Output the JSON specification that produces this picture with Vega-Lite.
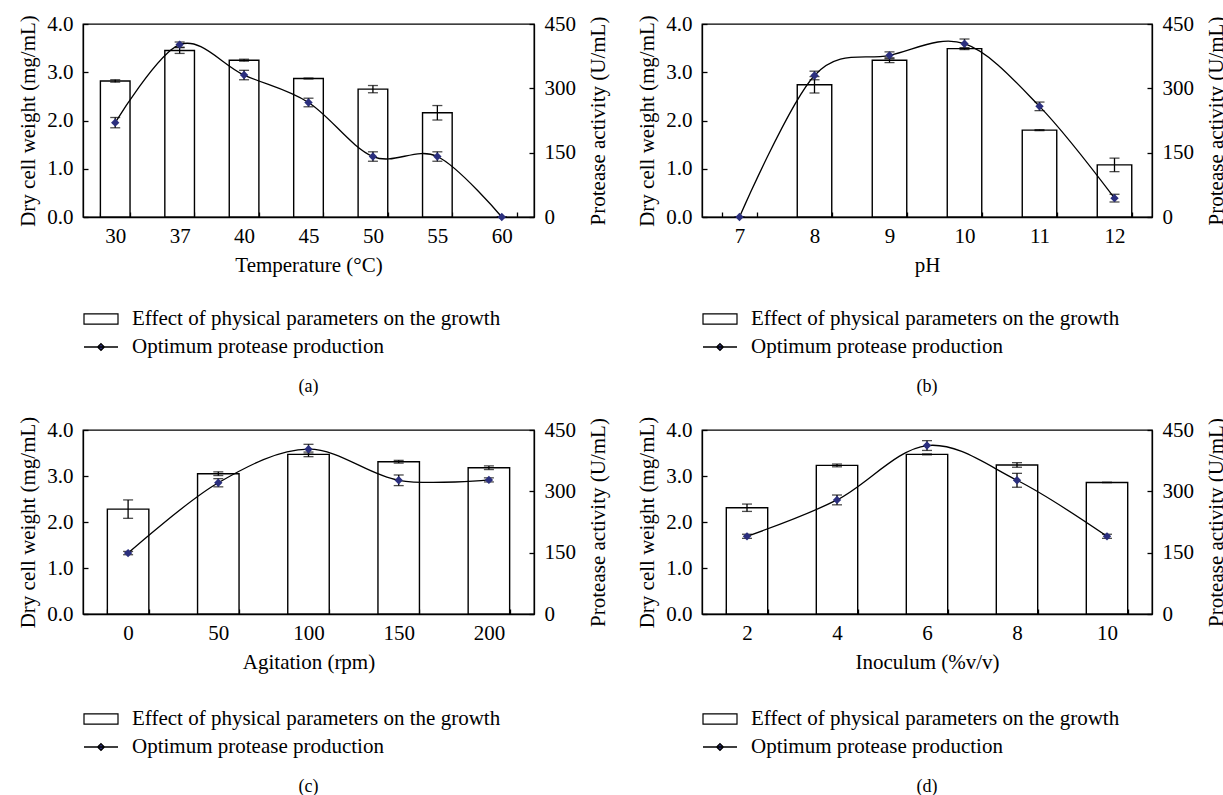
{
  "$schema": "https://vega.github.io/schema/vega-lite/v6.json",
  "padding": {"left": 17, "top": 12, "right": 0, "bottom": 0},
  "background": "white",
  "datasets": {
    "temp": [
      {"x": 30, "dw": 2.82, "dwErr": 0.025, "pa": 220, "paErr": 12},
      {"x": 37, "dw": 3.45, "dwErr": 0.06, "pa": 402, "paErr": 6},
      {"x": 40, "dw": 3.25, "dwErr": 0.02, "pa": 331, "paErr": 11},
      {"x": 45, "dw": 2.87, "dwErr": 0.01, "pa": 267, "paErr": 10},
      {"x": 50, "dw": 2.65, "dwErr": 0.075, "pa": 141, "paErr": 11},
      {"x": 55, "dw": 2.16, "dwErr": 0.15, "pa": 141, "paErr": 11},
      {"x": 60, "dw": null, "dwErr": null, "pa": 0, "paErr": 0}
    ],
    "ph": [
      {"x": 7, "dw": null, "dwErr": null, "pa": 0, "paErr": 0},
      {"x": 8, "dw": 2.74, "dwErr": 0.17, "pa": 330, "paErr": 10},
      {"x": 9, "dw": 3.25, "dwErr": 0.05, "pa": 377, "paErr": 8},
      {"x": 10, "dw": 3.49, "dwErr": 0.02, "pa": 404, "paErr": 11},
      {"x": 11, "dw": 1.8, "dwErr": 0.01, "pa": 258, "paErr": 10},
      {"x": 12, "dw": 1.08, "dwErr": 0.14, "pa": 44, "paErr": 9}
    ],
    "agit": [
      {"x": 0, "dw": 2.28, "dwErr": 0.2, "pa": 149, "paErr": 4},
      {"x": 50, "dw": 3.05, "dwErr": 0.04, "pa": 321, "paErr": 10},
      {"x": 100, "dw": 3.47, "dwErr": 0.05, "pa": 403, "paErr": 12},
      {"x": 150, "dw": 3.31, "dwErr": 0.03, "pa": 327, "paErr": 13},
      {"x": 200, "dw": 3.18, "dwErr": 0.04, "pa": 328, "paErr": 5}
    ],
    "inoc": [
      {"x": 2, "dw": 2.31, "dwErr": 0.08, "pa": 190, "paErr": 5},
      {"x": 4, "dw": 3.23, "dwErr": 0.03, "pa": 279, "paErr": 12},
      {"x": 6, "dw": 3.47, "dwErr": 0.01, "pa": 412, "paErr": 12},
      {"x": 8, "dw": 3.24, "dwErr": 0.05, "pa": 327, "paErr": 17},
      {"x": 10, "dw": 2.86, "dwErr": 0.005, "pa": 190, "paErr": 5}
    ]
  },
  "vconcat": [
    {
      "hconcat": [
        {
          "width": 451, "height": 193,
          "data": {"name": "temp"},
          "title": {"text": "(a)", "orient": "bottom", "offset": 21},
          "encoding": {"x": {"field": "x", "type": "ordinal", "title": "Temperature (°C)", "scale": {"paddingInner": 0.54, "paddingOuter": 0.27}}},
          "layer": [
            {"transform": [{"filter": "isValid(datum.dw)"}], "layer": [
              {"mark": {"type": "bar", "stroke": "black", "strokeWidth": 1.4},
               "encoding": {"y": {"field": "dw", "type": "quantitative", "title": "Dry cell weight (mg/mL)", "scale": {"domain": [0, 4]}, "axis": {"orient": "left", "values": [0, 1, 2, 3, 4], "format": ".1f"}},
                 "fill": {"datum": "Effect of physical parameters on the growth", "scale": {"range": ["white"]}, "legend": {"orient": "none", "legendX": 0, "legendY": 277, "symbolType": "M-1,-0.3H1V0.3H-1Z", "symbolSize": 1156, "symbolStrokeColor": "black", "symbolStrokeWidth": 1.2, "symbolFillColor": "white"}}}},
              {"mark": {"type": "errorbar", "ticks": {"size": 10, "color": "black"}, "color": "black", "thickness": 1.3},
               "encoding": {"y": {"field": "dw", "type": "quantitative", "title": "Dry cell weight (mg/mL)"}, "yError": {"field": "dwErr"}}}
            ]},
            {"layer": [
              {"mark": {"type": "line", "interpolate": "cardinal", "strokeWidth": 1.3},
               "encoding": {"y": {"field": "pa", "type": "quantitative", "title": "Protease activity (U/mL)", "scale": {"domain": [0, 450]}, "axis": {"orient": "right", "values": [0, 150, 300, 450], "titleAngle": 270, "titleBaseline": "top", "titlePadding": 12}},
                 "stroke": {"datum": "Optimum protease production", "scale": {"range": ["black"]}, "legend": {"orient": "none", "legendX": 0, "legendY": 305, "symbolType": "M-1,0H1M0,-0.2L0.2,0L0,0.2L-0.2,0Z", "symbolSize": 1156, "symbolStrokeColor": "black", "symbolStrokeWidth": 1.3, "symbolFillColor": "#2b2f7e"}}}},
              {"mark": {"type": "errorbar", "ticks": {"size": 10, "color": "black"}, "color": "black", "thickness": 1.3},
               "encoding": {"y": {"field": "pa", "type": "quantitative", "title": "Protease activity (U/mL)"}, "yError": {"field": "paErr"}}},
              {"mark": {"type": "point", "shape": "diamond", "filled": true, "color": "#2b2f7e", "size": 70, "opacity": 1},
               "encoding": {"y": {"field": "pa", "type": "quantitative", "title": "Protease activity (U/mL)"}}}
            ]}
          ],
          "resolve": {"scale": {"y": "independent"}}
        },
        {
          "width": 450, "height": 193,
          "data": {"name": "ph"},
          "title": {"text": "(b)", "orient": "bottom", "offset": 21},
          "encoding": {"x": {"field": "x", "type": "ordinal", "title": "pH", "scale": {"paddingInner": 0.54, "paddingOuter": 0.27}}},
          "layer": [
            {"transform": [{"filter": "isValid(datum.dw)"}], "layer": [
              {"mark": {"type": "bar", "stroke": "black", "strokeWidth": 1.4},
               "encoding": {"y": {"field": "dw", "type": "quantitative", "title": "Dry cell weight (mg/mL)", "scale": {"domain": [0, 4]}, "axis": {"orient": "left", "values": [0, 1, 2, 3, 4], "format": ".1f"}},
                 "fill": {"datum": "Effect of physical parameters on the growth", "scale": {"range": ["white"]}, "legend": {"orient": "none", "legendX": 0, "legendY": 277, "symbolType": "M-1,-0.3H1V0.3H-1Z", "symbolSize": 1156, "symbolStrokeColor": "black", "symbolStrokeWidth": 1.2, "symbolFillColor": "white"}}}},
              {"mark": {"type": "errorbar", "ticks": {"size": 10, "color": "black"}, "color": "black", "thickness": 1.3},
               "encoding": {"y": {"field": "dw", "type": "quantitative", "title": "Dry cell weight (mg/mL)"}, "yError": {"field": "dwErr"}}}
            ]},
            {"layer": [
              {"mark": {"type": "line", "interpolate": "cardinal", "strokeWidth": 1.3},
               "encoding": {"y": {"field": "pa", "type": "quantitative", "title": "Protease activity (U/mL)", "scale": {"domain": [0, 450]}, "axis": {"orient": "right", "values": [0, 150, 300, 450], "titleAngle": 270, "titleBaseline": "top", "titlePadding": 12}},
                 "stroke": {"datum": "Optimum protease production", "scale": {"range": ["black"]}, "legend": {"orient": "none", "legendX": 0, "legendY": 305, "symbolType": "M-1,0H1M0,-0.2L0.2,0L0,0.2L-0.2,0Z", "symbolSize": 1156, "symbolStrokeColor": "black", "symbolStrokeWidth": 1.3, "symbolFillColor": "#2b2f7e"}}}},
              {"mark": {"type": "errorbar", "ticks": {"size": 10, "color": "black"}, "color": "black", "thickness": 1.3},
               "encoding": {"y": {"field": "pa", "type": "quantitative", "title": "Protease activity (U/mL)"}, "yError": {"field": "paErr"}}},
              {"mark": {"type": "point", "shape": "diamond", "filled": true, "color": "#2b2f7e", "size": 70, "opacity": 1},
               "encoding": {"y": {"field": "pa", "type": "quantitative", "title": "Protease activity (U/mL)"}}}
            ]}
          ],
          "resolve": {"scale": {"y": "independent"}}
        }
      ],
      "spacing": 26,
      "resolve": {"scale": {"fill": "independent", "stroke": "independent"}}
    },
    {
      "hconcat": [
        {
          "width": 451, "height": 184,
          "data": {"name": "agit"},
          "title": {"text": "(c)", "orient": "bottom", "offset": 21},
          "encoding": {"x": {"field": "x", "type": "ordinal", "title": "Agitation (rpm)", "scale": {"paddingInner": 0.54, "paddingOuter": 0.27}}},
          "layer": [
            {"layer": [
              {"mark": {"type": "bar", "stroke": "black", "strokeWidth": 1.4},
               "encoding": {"y": {"field": "dw", "type": "quantitative", "title": "Dry cell weight (mg/mL)", "scale": {"domain": [0, 4]}, "axis": {"orient": "left", "values": [0, 1, 2, 3, 4], "format": ".1f"}},
                 "fill": {"datum": "Effect of physical parameters on the growth", "scale": {"range": ["white"]}, "legend": {"orient": "none", "legendX": 0, "legendY": 271, "symbolType": "M-1,-0.3H1V0.3H-1Z", "symbolSize": 1156, "symbolStrokeColor": "black", "symbolStrokeWidth": 1.2, "symbolFillColor": "white"}}}},
              {"mark": {"type": "errorbar", "ticks": {"size": 10, "color": "black"}, "color": "black", "thickness": 1.3},
               "encoding": {"y": {"field": "dw", "type": "quantitative", "title": "Dry cell weight (mg/mL)"}, "yError": {"field": "dwErr"}}}
            ]},
            {"layer": [
              {"mark": {"type": "line", "interpolate": "cardinal", "strokeWidth": 1.3},
               "encoding": {"y": {"field": "pa", "type": "quantitative", "title": "Protease activity (U/mL)", "scale": {"domain": [0, 450]}, "axis": {"orient": "right", "values": [0, 150, 300, 450], "titleAngle": 270, "titleBaseline": "top", "titlePadding": 12}},
                 "stroke": {"datum": "Optimum protease production", "scale": {"range": ["black"]}, "legend": {"orient": "none", "legendX": 0, "legendY": 299, "symbolType": "M-1,0H1M0,-0.2L0.2,0L0,0.2L-0.2,0Z", "symbolSize": 1156, "symbolStrokeColor": "black", "symbolStrokeWidth": 1.3, "symbolFillColor": "#2b2f7e"}}}},
              {"mark": {"type": "errorbar", "ticks": {"size": 10, "color": "black"}, "color": "black", "thickness": 1.3},
               "encoding": {"y": {"field": "pa", "type": "quantitative", "title": "Protease activity (U/mL)"}, "yError": {"field": "paErr"}}},
              {"mark": {"type": "point", "shape": "diamond", "filled": true, "color": "#2b2f7e", "size": 70, "opacity": 1},
               "encoding": {"y": {"field": "pa", "type": "quantitative", "title": "Protease activity (U/mL)"}}}
            ]}
          ],
          "resolve": {"scale": {"y": "independent"}}
        },
        {
          "width": 450, "height": 184,
          "data": {"name": "inoc"},
          "title": {"text": "(d)", "orient": "bottom", "offset": 21},
          "encoding": {"x": {"field": "x", "type": "ordinal", "title": "Inoculum (%v/v)", "scale": {"paddingInner": 0.54, "paddingOuter": 0.27}}},
          "layer": [
            {"layer": [
              {"mark": {"type": "bar", "stroke": "black", "strokeWidth": 1.4},
               "encoding": {"y": {"field": "dw", "type": "quantitative", "title": "Dry cell weight (mg/mL)", "scale": {"domain": [0, 4]}, "axis": {"orient": "left", "values": [0, 1, 2, 3, 4], "format": ".1f"}},
                 "fill": {"datum": "Effect of physical parameters on the growth", "scale": {"range": ["white"]}, "legend": {"orient": "none", "legendX": 0, "legendY": 271, "symbolType": "M-1,-0.3H1V0.3H-1Z", "symbolSize": 1156, "symbolStrokeColor": "black", "symbolStrokeWidth": 1.2, "symbolFillColor": "white"}}}},
              {"mark": {"type": "errorbar", "ticks": {"size": 10, "color": "black"}, "color": "black", "thickness": 1.3},
               "encoding": {"y": {"field": "dw", "type": "quantitative", "title": "Dry cell weight (mg/mL)"}, "yError": {"field": "dwErr"}}}
            ]},
            {"layer": [
              {"mark": {"type": "line", "interpolate": "cardinal", "strokeWidth": 1.3},
               "encoding": {"y": {"field": "pa", "type": "quantitative", "title": "Protease activity (U/mL)", "scale": {"domain": [0, 450]}, "axis": {"orient": "right", "values": [0, 150, 300, 450], "titleAngle": 270, "titleBaseline": "top", "titlePadding": 12}},
                 "stroke": {"datum": "Optimum protease production", "scale": {"range": ["black"]}, "legend": {"orient": "none", "legendX": 0, "legendY": 299, "symbolType": "M-1,0H1M0,-0.2L0.2,0L0,0.2L-0.2,0Z", "symbolSize": 1156, "symbolStrokeColor": "black", "symbolStrokeWidth": 1.3, "symbolFillColor": "#2b2f7e"}}}},
              {"mark": {"type": "errorbar", "ticks": {"size": 10, "color": "black"}, "color": "black", "thickness": 1.3},
               "encoding": {"y": {"field": "pa", "type": "quantitative", "title": "Protease activity (U/mL)"}, "yError": {"field": "paErr"}}},
              {"mark": {"type": "point", "shape": "diamond", "filled": true, "color": "#2b2f7e", "size": 70, "opacity": 1},
               "encoding": {"y": {"field": "pa", "type": "quantitative", "title": "Protease activity (U/mL)"}}}
            ]}
          ],
          "resolve": {"scale": {"y": "independent"}}
        }
      ],
      "spacing": 26,
      "resolve": {"scale": {"fill": "independent", "stroke": "independent"}}
    }
  ],
  "spacing": 18,
  "resolve": {"scale": {"fill": "independent", "stroke": "independent"}},
  "config": {
    "font": "Liberation Serif",
    "view": {"stroke": "black", "strokeWidth": 1.3},
    "axis": {
      "labelFont": "Liberation Serif", "labelFontSize": 21, "labelColor": "black",
      "titleFont": "Liberation Serif", "titleFontSize": 21, "titleFontWeight": "normal", "titleColor": "black",
      "domainColor": "black", "domainWidth": 1.3, "tickColor": "black", "tickWidth": 1.3,
      "tickSize": -5, "labelPadding": 15, "titlePadding": 8, "grid": false
    },
    "axisX": {"tickBand": "extent", "labelAngle": 0, "labelPadding": 13, "titlePadding": 8},
    "legend": {
      "title": null, "labelFont": "Liberation Serif", "labelFontSize": 21, "labelColor": "black",
      "labelOffset": 13, "labelLimit": 0
    },
    "title": {"font": "Liberation Serif", "fontSize": 18, "fontWeight": "normal", "color": "black", "anchor": "middle"}
  }
}
